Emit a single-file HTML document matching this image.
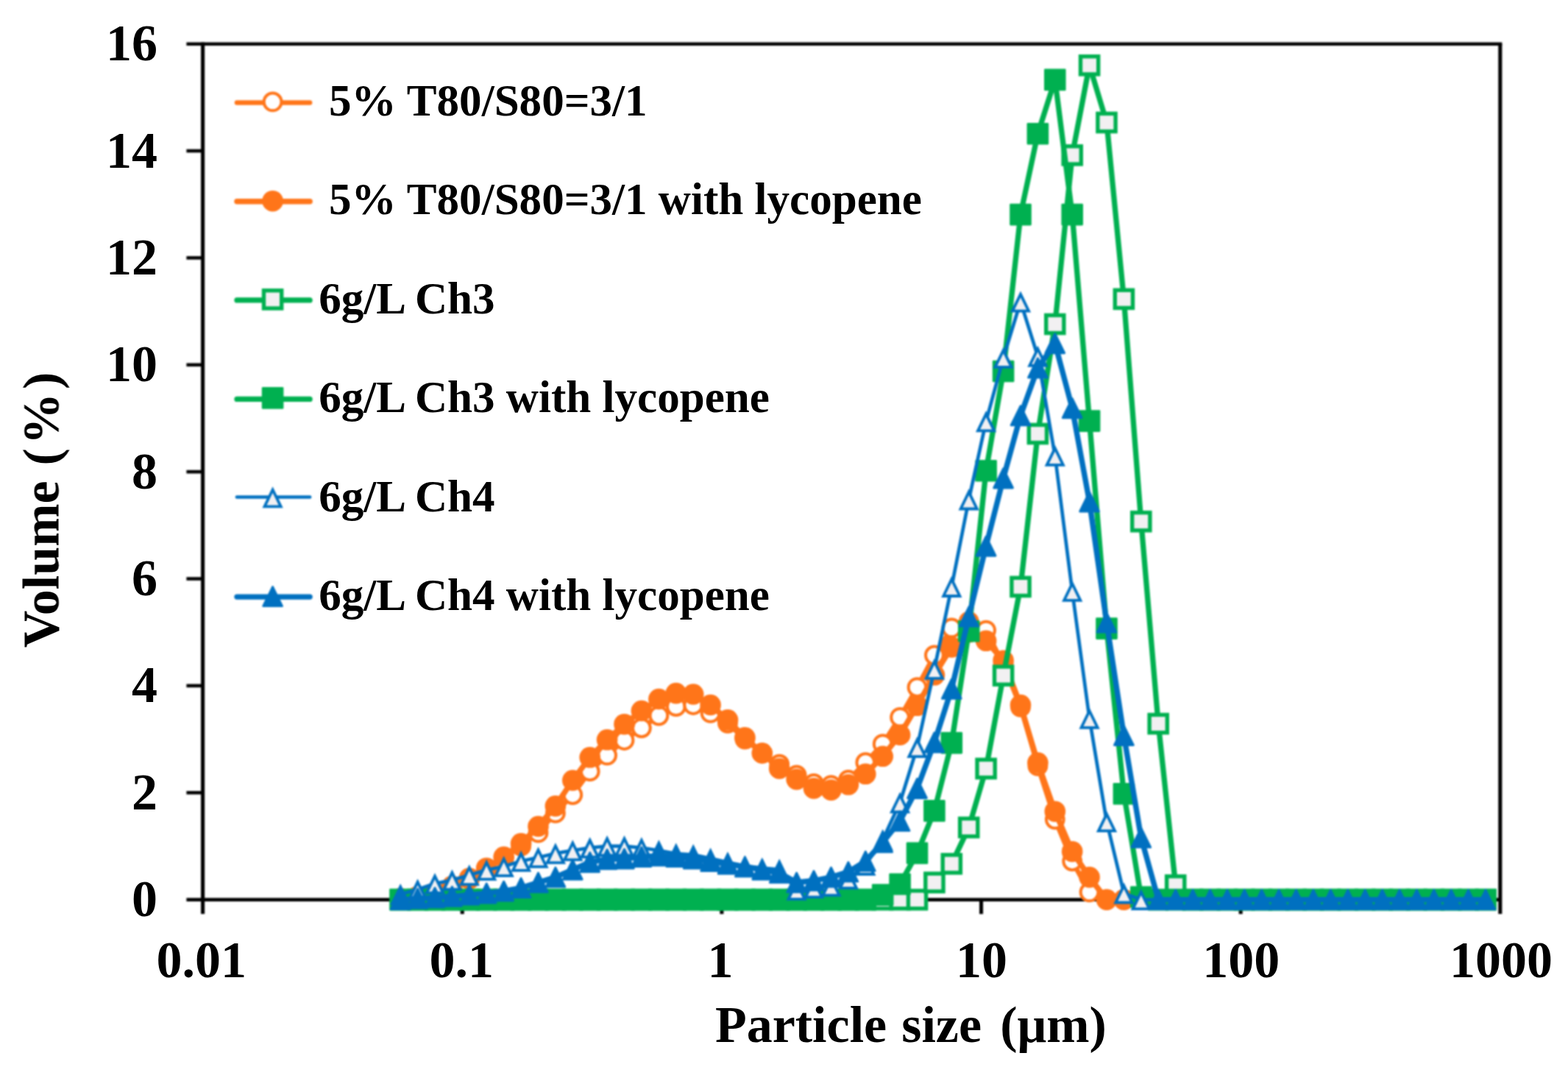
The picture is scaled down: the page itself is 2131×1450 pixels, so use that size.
<!DOCTYPE html>
<html lang="en"><head><meta charset="utf-8"><title>Particle size distribution</title>
<style>html,body{margin:0;padding:0;background:#fff;}body{width:2131px;height:1450px;}svg{display:block;}text{font-family:"Liberation Serif","DejaVu Serif",serif;font-weight:bold;fill:#000;}</style>
</head><body>
<svg width="2131" height="1450" viewBox="0 0 2131 1450">
<rect width="2131" height="1450" fill="#ffffff"/>
<defs>
<circle id="mo1" r="11.9" fill="#ffffff" stroke="#FF7519" stroke-width="4"/>
<circle id="mo2" r="14.3" fill="#FF7519"/>
<rect id="mg1" x="-12.1" y="-12.1" width="24.2" height="24.2" fill="#f2f0f2" stroke="#00B050" stroke-width="5.4" stroke-linejoin="miter"/>
<rect id="mg2" x="-13.5" y="-13.5" width="27" height="27" fill="#00B050" stroke="#00B050" stroke-width="2.6" stroke-linejoin="round"/>
<path id="mb1" d="M0 -10.2 L11.1 12.6 L-11.1 12.6 Z" fill="#f2f0f2" stroke="#0070C0" stroke-width="3.8" stroke-linejoin="miter"/>
<path id="mb2" d="M0 -13 L12.8 13 L-12.8 13 Z" fill="#0070C0" stroke="#0070C0" stroke-width="3" stroke-linejoin="round"/>
<filter id="soft" x="0" y="0" width="100%" height="100%" filterUnits="userSpaceOnUse" color-interpolation-filters="sRGB"><feGaussianBlur stdDeviation="1.0"/></filter>
<filter id="softt" x="0" y="0" width="100%" height="100%" filterUnits="userSpaceOnUse" color-interpolation-filters="sRGB"><feGaussianBlur stdDeviation="0.6"/></filter>
</defs>
<g filter="url(#soft)">
<g stroke="#000" fill="none" stroke-linecap="butt">
<path d="M253.40000000000003 59.7 H2041.35" stroke-width="4.6"/>
<path d="M2038.8 59.7 V1242.1" stroke-width="5.1"/>
<path d="M275.6 57.400000000000006 V1242.1" stroke-width="5.1"/>
<path d="M253.40000000000003 1222.6 H2038.8" stroke-width="4.6"/>
<path d="M253.40000000000003 1077.24 H275.6" stroke-width="4.6"/>
<path d="M253.40000000000003 931.88 H275.6" stroke-width="4.6"/>
<path d="M253.40000000000003 786.51 H275.6" stroke-width="4.6"/>
<path d="M253.40000000000003 641.15 H275.6" stroke-width="4.6"/>
<path d="M253.40000000000003 495.79 H275.6" stroke-width="4.6"/>
<path d="M253.40000000000003 350.42 H275.6" stroke-width="4.6"/>
<path d="M253.40000000000003 205.06 H275.6" stroke-width="4.6"/>
<path d="M628.24 1222.6 V1242.1" stroke-width="5.1"/>
<path d="M980.88 1222.6 V1242.1" stroke-width="5.1"/>
<path d="M1333.52 1222.6 V1242.1" stroke-width="5.1"/>
<path d="M1686.16 1222.6 V1242.1" stroke-width="5.1"/>
</g>
<g>
<polyline points="544.2,1221.1 567.6,1218.2 591.0,1213.2 614.4,1205.9 637.8,1195.0 661.2,1181.9 684.7,1165.9 708.1,1149.9 731.5,1131.7 754.9,1104.9 778.3,1080.1 801.7,1048.2 825.1,1026.4 848.5,1006.0 871.9,989.3 895.4,972.6 918.8,960.2 942.2,958.0 965.6,968.9 989.0,982.8 1012.4,1004.6 1035.8,1023.5 1059.2,1038.7 1082.6,1053.3 1106.0,1064.9 1129.5,1067.1 1152.9,1059.8 1176.3,1036.2 1199.7,1011.1 1223.1,974.8 1246.5,934.1 1269.9,890.4 1293.3,853.4 1316.7,844.7 1340.1,856.6 1363.6,902.8 1387.0,960.9 1410.4,1040.9 1433.8,1113.6 1457.2,1170.3 1480.6,1212.4 1504.0,1222.6 1527.4,1222.6 1550.8,1222.6 1574.2,1222.6 1597.7,1222.6 1621.1,1222.6 1644.5,1222.6 1667.9,1222.6 1691.3,1222.6 1714.7,1222.6 1738.1,1222.6 1761.5,1222.6 1784.9,1222.6 1808.3,1222.6 1831.8,1222.6 1855.2,1222.6 1878.6,1222.6 1902.0,1222.6 1925.4,1222.6 1948.8,1222.6 1972.2,1222.6 1995.6,1222.6 2019.0,1222.6" fill="none" stroke="#FF7519" stroke-width="6.5" stroke-linejoin="round" stroke-linecap="round"/>
<use href="#mo1" x="544.2" y="1221.1"/>
<use href="#mo1" x="567.6" y="1218.2"/>
<use href="#mo1" x="591.0" y="1213.2"/>
<use href="#mo1" x="614.4" y="1205.9"/>
<use href="#mo1" x="637.8" y="1195.0"/>
<use href="#mo1" x="661.2" y="1181.9"/>
<use href="#mo1" x="684.7" y="1165.9"/>
<use href="#mo1" x="708.1" y="1149.9"/>
<use href="#mo1" x="731.5" y="1131.7"/>
<use href="#mo1" x="754.9" y="1104.9"/>
<use href="#mo1" x="778.3" y="1080.1"/>
<use href="#mo1" x="801.7" y="1048.2"/>
<use href="#mo1" x="825.1" y="1026.4"/>
<use href="#mo1" x="848.5" y="1006.0"/>
<use href="#mo1" x="871.9" y="989.3"/>
<use href="#mo1" x="895.4" y="972.6"/>
<use href="#mo1" x="918.8" y="960.2"/>
<use href="#mo1" x="942.2" y="958.0"/>
<use href="#mo1" x="965.6" y="968.9"/>
<use href="#mo1" x="989.0" y="982.8"/>
<use href="#mo1" x="1012.4" y="1004.6"/>
<use href="#mo1" x="1035.8" y="1023.5"/>
<use href="#mo1" x="1059.2" y="1038.7"/>
<use href="#mo1" x="1082.6" y="1053.3"/>
<use href="#mo1" x="1106.0" y="1064.9"/>
<use href="#mo1" x="1129.5" y="1067.1"/>
<use href="#mo1" x="1152.9" y="1059.8"/>
<use href="#mo1" x="1176.3" y="1036.2"/>
<use href="#mo1" x="1199.7" y="1011.1"/>
<use href="#mo1" x="1223.1" y="974.8"/>
<use href="#mo1" x="1246.5" y="934.1"/>
<use href="#mo1" x="1269.9" y="890.4"/>
<use href="#mo1" x="1293.3" y="853.4"/>
<use href="#mo1" x="1316.7" y="844.7"/>
<use href="#mo1" x="1340.1" y="856.6"/>
<use href="#mo1" x="1363.6" y="902.8"/>
<use href="#mo1" x="1387.0" y="960.9"/>
<use href="#mo1" x="1410.4" y="1040.9"/>
<use href="#mo1" x="1433.8" y="1113.6"/>
<use href="#mo1" x="1457.2" y="1170.3"/>
<use href="#mo1" x="1480.6" y="1212.4"/>
<use href="#mo1" x="1504.0" y="1222.6"/>
<use href="#mo1" x="1527.4" y="1222.6"/>
<use href="#mo1" x="1550.8" y="1222.6"/>
<use href="#mo1" x="1574.2" y="1222.6"/>
<use href="#mo1" x="1597.7" y="1222.6"/>
<use href="#mo1" x="1621.1" y="1222.6"/>
<use href="#mo1" x="1644.5" y="1222.6"/>
<use href="#mo1" x="1667.9" y="1222.6"/>
<use href="#mo1" x="1691.3" y="1222.6"/>
<use href="#mo1" x="1714.7" y="1222.6"/>
<use href="#mo1" x="1738.1" y="1222.6"/>
<use href="#mo1" x="1761.5" y="1222.6"/>
<use href="#mo1" x="1784.9" y="1222.6"/>
<use href="#mo1" x="1808.3" y="1222.6"/>
<use href="#mo1" x="1831.8" y="1222.6"/>
<use href="#mo1" x="1855.2" y="1222.6"/>
<use href="#mo1" x="1878.6" y="1222.6"/>
<use href="#mo1" x="1902.0" y="1222.6"/>
<use href="#mo1" x="1925.4" y="1222.6"/>
<use href="#mo1" x="1948.8" y="1222.6"/>
<use href="#mo1" x="1972.2" y="1222.6"/>
<use href="#mo1" x="1995.6" y="1222.6"/>
<use href="#mo1" x="2019.0" y="1222.6"/>
</g>
<g>
<polyline points="544.2,1221.1 567.6,1218.2 591.0,1213.2 614.4,1204.4 637.8,1193.5 661.2,1179.7 684.7,1164.5 708.1,1146.3 731.5,1123.0 754.9,1095.4 778.3,1060.5 801.7,1029.3 825.1,1005.3 848.5,984.2 871.9,966.0 895.4,950.0 918.8,942.1 942.2,943.5 965.6,958.0 989.0,978.4 1012.4,1002.4 1035.8,1023.5 1059.2,1044.5 1082.6,1059.1 1106.0,1071.4 1129.5,1073.6 1152.9,1066.3 1176.3,1051.8 1199.7,1027.8 1223.1,998.7 1246.5,958.8 1269.9,917.3 1293.3,879.5 1316.7,859.2 1340.1,870.8 1363.6,897.7 1387.0,958.0 1410.4,1036.5 1433.8,1102.7 1457.2,1157.2 1480.6,1192.1 1504.0,1222.6 1527.4,1222.6 1550.8,1222.6 1574.2,1222.6 1597.7,1222.6 1621.1,1222.6 1644.5,1222.6 1667.9,1222.6 1691.3,1222.6 1714.7,1222.6 1738.1,1222.6 1761.5,1222.6 1784.9,1222.6 1808.3,1222.6 1831.8,1222.6 1855.2,1222.6 1878.6,1222.6 1902.0,1222.6 1925.4,1222.6 1948.8,1222.6 1972.2,1222.6 1995.6,1222.6 2019.0,1222.6" fill="none" stroke="#FF7519" stroke-width="7.5" stroke-linejoin="round" stroke-linecap="round"/>
<use href="#mo2" x="544.2" y="1221.1"/>
<use href="#mo2" x="567.6" y="1218.2"/>
<use href="#mo2" x="591.0" y="1213.2"/>
<use href="#mo2" x="614.4" y="1204.4"/>
<use href="#mo2" x="637.8" y="1193.5"/>
<use href="#mo2" x="661.2" y="1179.7"/>
<use href="#mo2" x="684.7" y="1164.5"/>
<use href="#mo2" x="708.1" y="1146.3"/>
<use href="#mo2" x="731.5" y="1123.0"/>
<use href="#mo2" x="754.9" y="1095.4"/>
<use href="#mo2" x="778.3" y="1060.5"/>
<use href="#mo2" x="801.7" y="1029.3"/>
<use href="#mo2" x="825.1" y="1005.3"/>
<use href="#mo2" x="848.5" y="984.2"/>
<use href="#mo2" x="871.9" y="966.0"/>
<use href="#mo2" x="895.4" y="950.0"/>
<use href="#mo2" x="918.8" y="942.1"/>
<use href="#mo2" x="942.2" y="943.5"/>
<use href="#mo2" x="965.6" y="958.0"/>
<use href="#mo2" x="989.0" y="978.4"/>
<use href="#mo2" x="1012.4" y="1002.4"/>
<use href="#mo2" x="1035.8" y="1023.5"/>
<use href="#mo2" x="1059.2" y="1044.5"/>
<use href="#mo2" x="1082.6" y="1059.1"/>
<use href="#mo2" x="1106.0" y="1071.4"/>
<use href="#mo2" x="1129.5" y="1073.6"/>
<use href="#mo2" x="1152.9" y="1066.3"/>
<use href="#mo2" x="1176.3" y="1051.8"/>
<use href="#mo2" x="1199.7" y="1027.8"/>
<use href="#mo2" x="1223.1" y="998.7"/>
<use href="#mo2" x="1246.5" y="958.8"/>
<use href="#mo2" x="1269.9" y="917.3"/>
<use href="#mo2" x="1293.3" y="879.5"/>
<use href="#mo2" x="1316.7" y="859.2"/>
<use href="#mo2" x="1340.1" y="870.8"/>
<use href="#mo2" x="1363.6" y="897.7"/>
<use href="#mo2" x="1387.0" y="958.0"/>
<use href="#mo2" x="1410.4" y="1036.5"/>
<use href="#mo2" x="1433.8" y="1102.7"/>
<use href="#mo2" x="1457.2" y="1157.2"/>
<use href="#mo2" x="1480.6" y="1192.1"/>
<use href="#mo2" x="1504.0" y="1222.6"/>
<use href="#mo2" x="1527.4" y="1222.6"/>
<use href="#mo2" x="1550.8" y="1222.6"/>
<use href="#mo2" x="1574.2" y="1222.6"/>
<use href="#mo2" x="1597.7" y="1222.6"/>
<use href="#mo2" x="1621.1" y="1222.6"/>
<use href="#mo2" x="1644.5" y="1222.6"/>
<use href="#mo2" x="1667.9" y="1222.6"/>
<use href="#mo2" x="1691.3" y="1222.6"/>
<use href="#mo2" x="1714.7" y="1222.6"/>
<use href="#mo2" x="1738.1" y="1222.6"/>
<use href="#mo2" x="1761.5" y="1222.6"/>
<use href="#mo2" x="1784.9" y="1222.6"/>
<use href="#mo2" x="1808.3" y="1222.6"/>
<use href="#mo2" x="1831.8" y="1222.6"/>
<use href="#mo2" x="1855.2" y="1222.6"/>
<use href="#mo2" x="1878.6" y="1222.6"/>
<use href="#mo2" x="1902.0" y="1222.6"/>
<use href="#mo2" x="1925.4" y="1222.6"/>
<use href="#mo2" x="1948.8" y="1222.6"/>
<use href="#mo2" x="1972.2" y="1222.6"/>
<use href="#mo2" x="1995.6" y="1222.6"/>
<use href="#mo2" x="2019.0" y="1222.6"/>
</g>
<g>
<polyline points="544.2,1222.6 567.6,1222.6 591.0,1222.6 614.4,1222.6 637.8,1222.6 661.2,1222.6 684.7,1222.6 708.1,1222.6 731.5,1222.6 754.9,1222.6 778.3,1222.6 801.7,1222.6 825.1,1222.6 848.5,1222.6 871.9,1222.6 895.4,1222.6 918.8,1222.6 942.2,1222.6 965.6,1222.6 989.0,1222.6 1012.4,1222.6 1035.8,1222.6 1059.2,1222.6 1082.6,1222.6 1106.0,1222.6 1129.5,1222.6 1152.9,1222.6 1176.3,1222.6 1199.7,1222.6 1223.1,1222.6 1246.5,1222.6 1269.9,1199.3 1293.3,1173.9 1316.7,1124.5 1340.1,1044.5 1363.6,918.1 1387.0,797.4 1410.4,589.5 1433.8,440.5 1457.2,210.9 1480.6,88.8 1504.0,166.5 1527.4,406.4 1550.8,708.7 1574.2,983.5 1597.7,1203.0 1621.1,1222.6 1644.5,1222.6 1667.9,1222.6 1691.3,1222.6 1714.7,1222.6 1738.1,1222.6 1761.5,1222.6 1784.9,1222.6 1808.3,1222.6 1831.8,1222.6 1855.2,1222.6 1878.6,1222.6 1902.0,1222.6 1925.4,1222.6 1948.8,1222.6 1972.2,1222.6 1995.6,1222.6 2019.0,1222.6" fill="none" stroke="#00B050" stroke-width="7.3" stroke-linejoin="round" stroke-linecap="round"/>
<use href="#mg1" x="544.2" y="1222.6"/>
<use href="#mg1" x="567.6" y="1222.6"/>
<use href="#mg1" x="591.0" y="1222.6"/>
<use href="#mg1" x="614.4" y="1222.6"/>
<use href="#mg1" x="637.8" y="1222.6"/>
<use href="#mg1" x="661.2" y="1222.6"/>
<use href="#mg1" x="684.7" y="1222.6"/>
<use href="#mg1" x="708.1" y="1222.6"/>
<use href="#mg1" x="731.5" y="1222.6"/>
<use href="#mg1" x="754.9" y="1222.6"/>
<use href="#mg1" x="778.3" y="1222.6"/>
<use href="#mg1" x="801.7" y="1222.6"/>
<use href="#mg1" x="825.1" y="1222.6"/>
<use href="#mg1" x="848.5" y="1222.6"/>
<use href="#mg1" x="871.9" y="1222.6"/>
<use href="#mg1" x="895.4" y="1222.6"/>
<use href="#mg1" x="918.8" y="1222.6"/>
<use href="#mg1" x="942.2" y="1222.6"/>
<use href="#mg1" x="965.6" y="1222.6"/>
<use href="#mg1" x="989.0" y="1222.6"/>
<use href="#mg1" x="1012.4" y="1222.6"/>
<use href="#mg1" x="1035.8" y="1222.6"/>
<use href="#mg1" x="1059.2" y="1222.6"/>
<use href="#mg1" x="1082.6" y="1222.6"/>
<use href="#mg1" x="1106.0" y="1222.6"/>
<use href="#mg1" x="1129.5" y="1222.6"/>
<use href="#mg1" x="1152.9" y="1222.6"/>
<use href="#mg1" x="1176.3" y="1222.6"/>
<use href="#mg1" x="1199.7" y="1222.6"/>
<use href="#mg1" x="1223.1" y="1222.6"/>
<use href="#mg1" x="1246.5" y="1222.6"/>
<use href="#mg1" x="1269.9" y="1199.3"/>
<use href="#mg1" x="1293.3" y="1173.9"/>
<use href="#mg1" x="1316.7" y="1124.5"/>
<use href="#mg1" x="1340.1" y="1044.5"/>
<use href="#mg1" x="1363.6" y="918.1"/>
<use href="#mg1" x="1387.0" y="797.4"/>
<use href="#mg1" x="1410.4" y="589.5"/>
<use href="#mg1" x="1433.8" y="440.5"/>
<use href="#mg1" x="1457.2" y="210.9"/>
<use href="#mg1" x="1480.6" y="88.8"/>
<use href="#mg1" x="1504.0" y="166.5"/>
<use href="#mg1" x="1527.4" y="406.4"/>
<use href="#mg1" x="1550.8" y="708.7"/>
<use href="#mg1" x="1574.2" y="983.5"/>
<use href="#mg1" x="1597.7" y="1203.0"/>
<use href="#mg1" x="1621.1" y="1222.6"/>
<use href="#mg1" x="1644.5" y="1222.6"/>
<use href="#mg1" x="1667.9" y="1222.6"/>
<use href="#mg1" x="1691.3" y="1222.6"/>
<use href="#mg1" x="1714.7" y="1222.6"/>
<use href="#mg1" x="1738.1" y="1222.6"/>
<use href="#mg1" x="1761.5" y="1222.6"/>
<use href="#mg1" x="1784.9" y="1222.6"/>
<use href="#mg1" x="1808.3" y="1222.6"/>
<use href="#mg1" x="1831.8" y="1222.6"/>
<use href="#mg1" x="1855.2" y="1222.6"/>
<use href="#mg1" x="1878.6" y="1222.6"/>
<use href="#mg1" x="1902.0" y="1222.6"/>
<use href="#mg1" x="1925.4" y="1222.6"/>
<use href="#mg1" x="1948.8" y="1222.6"/>
<use href="#mg1" x="1972.2" y="1222.6"/>
<use href="#mg1" x="1995.6" y="1222.6"/>
<use href="#mg1" x="2019.0" y="1222.6"/>
</g>
<g>
<polyline points="544.2,1222.6 567.6,1222.6 591.0,1222.6 614.4,1222.6 637.8,1222.6 661.2,1222.6 684.7,1222.6 708.1,1222.6 731.5,1222.6 754.9,1222.6 778.3,1222.6 801.7,1222.6 825.1,1222.6 848.5,1222.6 871.9,1222.6 895.4,1222.6 918.8,1222.6 942.2,1222.6 965.6,1222.6 989.0,1222.6 1012.4,1222.6 1035.8,1222.6 1059.2,1222.6 1082.6,1222.6 1106.0,1222.6 1129.5,1222.6 1152.9,1222.6 1176.3,1222.6 1199.7,1216.1 1223.1,1201.5 1246.5,1159.4 1269.9,1101.9 1293.3,1009.6 1316.7,857.7 1340.1,639.7 1363.6,504.5 1387.0,291.6 1410.4,181.8 1433.8,108.4 1457.2,291.6 1480.6,572.1 1504.0,854.1 1527.4,1078.7 1550.8,1219.0 1574.2,1222.6 1597.7,1222.6 1621.1,1222.6 1644.5,1222.6 1667.9,1222.6 1691.3,1222.6 1714.7,1222.6 1738.1,1222.6 1761.5,1222.6 1784.9,1222.6 1808.3,1222.6 1831.8,1222.6 1855.2,1222.6 1878.6,1222.6 1902.0,1222.6 1925.4,1222.6 1948.8,1222.6 1972.2,1222.6 1995.6,1222.6 2019.0,1222.6" fill="none" stroke="#00B050" stroke-width="7.3" stroke-linejoin="round" stroke-linecap="round"/>
<use href="#mg2" x="544.2" y="1222.6"/>
<use href="#mg2" x="567.6" y="1222.6"/>
<use href="#mg2" x="591.0" y="1222.6"/>
<use href="#mg2" x="614.4" y="1222.6"/>
<use href="#mg2" x="637.8" y="1222.6"/>
<use href="#mg2" x="661.2" y="1222.6"/>
<use href="#mg2" x="684.7" y="1222.6"/>
<use href="#mg2" x="708.1" y="1222.6"/>
<use href="#mg2" x="731.5" y="1222.6"/>
<use href="#mg2" x="754.9" y="1222.6"/>
<use href="#mg2" x="778.3" y="1222.6"/>
<use href="#mg2" x="801.7" y="1222.6"/>
<use href="#mg2" x="825.1" y="1222.6"/>
<use href="#mg2" x="848.5" y="1222.6"/>
<use href="#mg2" x="871.9" y="1222.6"/>
<use href="#mg2" x="895.4" y="1222.6"/>
<use href="#mg2" x="918.8" y="1222.6"/>
<use href="#mg2" x="942.2" y="1222.6"/>
<use href="#mg2" x="965.6" y="1222.6"/>
<use href="#mg2" x="989.0" y="1222.6"/>
<use href="#mg2" x="1012.4" y="1222.6"/>
<use href="#mg2" x="1035.8" y="1222.6"/>
<use href="#mg2" x="1059.2" y="1222.6"/>
<use href="#mg2" x="1082.6" y="1222.6"/>
<use href="#mg2" x="1106.0" y="1222.6"/>
<use href="#mg2" x="1129.5" y="1222.6"/>
<use href="#mg2" x="1152.9" y="1222.6"/>
<use href="#mg2" x="1176.3" y="1222.6"/>
<use href="#mg2" x="1199.7" y="1216.1"/>
<use href="#mg2" x="1223.1" y="1201.5"/>
<use href="#mg2" x="1246.5" y="1159.4"/>
<use href="#mg2" x="1269.9" y="1101.9"/>
<use href="#mg2" x="1293.3" y="1009.6"/>
<use href="#mg2" x="1316.7" y="857.7"/>
<use href="#mg2" x="1340.1" y="639.7"/>
<use href="#mg2" x="1363.6" y="504.5"/>
<use href="#mg2" x="1387.0" y="291.6"/>
<use href="#mg2" x="1410.4" y="181.8"/>
<use href="#mg2" x="1433.8" y="108.4"/>
<use href="#mg2" x="1457.2" y="291.6"/>
<use href="#mg2" x="1480.6" y="572.1"/>
<use href="#mg2" x="1504.0" y="854.1"/>
<use href="#mg2" x="1527.4" y="1078.7"/>
<use href="#mg2" x="1550.8" y="1219.0"/>
<use href="#mg2" x="1574.2" y="1222.6"/>
<use href="#mg2" x="1597.7" y="1222.6"/>
<use href="#mg2" x="1621.1" y="1222.6"/>
<use href="#mg2" x="1644.5" y="1222.6"/>
<use href="#mg2" x="1667.9" y="1222.6"/>
<use href="#mg2" x="1691.3" y="1222.6"/>
<use href="#mg2" x="1714.7" y="1222.6"/>
<use href="#mg2" x="1738.1" y="1222.6"/>
<use href="#mg2" x="1761.5" y="1222.6"/>
<use href="#mg2" x="1784.9" y="1222.6"/>
<use href="#mg2" x="1808.3" y="1222.6"/>
<use href="#mg2" x="1831.8" y="1222.6"/>
<use href="#mg2" x="1855.2" y="1222.6"/>
<use href="#mg2" x="1878.6" y="1222.6"/>
<use href="#mg2" x="1902.0" y="1222.6"/>
<use href="#mg2" x="1925.4" y="1222.6"/>
<use href="#mg2" x="1948.8" y="1222.6"/>
<use href="#mg2" x="1972.2" y="1222.6"/>
<use href="#mg2" x="1995.6" y="1222.6"/>
<use href="#mg2" x="2019.0" y="1222.6"/>
</g>
<g>
<polyline points="544.2,1215.3 567.6,1208.8 591.0,1200.8 614.4,1196.1 637.8,1189.2 661.2,1182.3 684.7,1177.5 708.1,1170.3 731.5,1165.2 754.9,1159.7 778.3,1155.7 801.7,1152.1 825.1,1149.9 848.5,1149.9 871.9,1152.1 895.4,1155.7 918.8,1160.1 942.2,1161.5 965.6,1166.6 989.0,1171.7 1012.4,1176.8 1035.8,1179.7 1059.2,1181.5 1082.6,1209.2 1106.0,1206.6 1129.5,1204.1 1152.9,1194.3 1176.3,1175.4 1199.7,1141.2 1223.1,1090.7 1246.5,1015.5 1269.9,909.3 1293.3,797.4 1316.7,678.9 1340.1,572.8 1363.6,486.3 1387.0,410.0 1410.4,484.2 1433.8,619.3 1457.2,803.2 1480.6,976.2 1504.0,1116.5 1527.4,1213.9 1550.8,1222.6 1574.2,1222.6 1597.7,1222.6 1621.1,1222.6 1644.5,1222.6 1667.9,1222.6 1691.3,1222.6 1714.7,1222.6 1738.1,1222.6 1761.5,1222.6 1784.9,1222.6 1808.3,1222.6 1831.8,1222.6 1855.2,1222.6 1878.6,1222.6 1902.0,1222.6 1925.4,1222.6 1948.8,1222.6 1972.2,1222.6 1995.6,1222.6 2019.0,1222.6" fill="none" stroke="#0070C0" stroke-width="4.7" stroke-linejoin="round" stroke-linecap="round"/>
<use href="#mb1" x="544.2" y="1215.3"/>
<use href="#mb1" x="567.6" y="1208.8"/>
<use href="#mb1" x="591.0" y="1200.8"/>
<use href="#mb1" x="614.4" y="1196.1"/>
<use href="#mb1" x="637.8" y="1189.2"/>
<use href="#mb1" x="661.2" y="1182.3"/>
<use href="#mb1" x="684.7" y="1177.5"/>
<use href="#mb1" x="708.1" y="1170.3"/>
<use href="#mb1" x="731.5" y="1165.2"/>
<use href="#mb1" x="754.9" y="1159.7"/>
<use href="#mb1" x="778.3" y="1155.7"/>
<use href="#mb1" x="801.7" y="1152.1"/>
<use href="#mb1" x="825.1" y="1149.9"/>
<use href="#mb1" x="848.5" y="1149.9"/>
<use href="#mb1" x="871.9" y="1152.1"/>
<use href="#mb1" x="895.4" y="1155.7"/>
<use href="#mb1" x="918.8" y="1160.1"/>
<use href="#mb1" x="942.2" y="1161.5"/>
<use href="#mb1" x="965.6" y="1166.6"/>
<use href="#mb1" x="989.0" y="1171.7"/>
<use href="#mb1" x="1012.4" y="1176.8"/>
<use href="#mb1" x="1035.8" y="1179.7"/>
<use href="#mb1" x="1059.2" y="1181.5"/>
<use href="#mb1" x="1082.6" y="1209.2"/>
<use href="#mb1" x="1106.0" y="1206.6"/>
<use href="#mb1" x="1129.5" y="1204.1"/>
<use href="#mb1" x="1152.9" y="1194.3"/>
<use href="#mb1" x="1176.3" y="1175.4"/>
<use href="#mb1" x="1199.7" y="1141.2"/>
<use href="#mb1" x="1223.1" y="1090.7"/>
<use href="#mb1" x="1246.5" y="1015.5"/>
<use href="#mb1" x="1269.9" y="909.3"/>
<use href="#mb1" x="1293.3" y="797.4"/>
<use href="#mb1" x="1316.7" y="678.9"/>
<use href="#mb1" x="1340.1" y="572.8"/>
<use href="#mb1" x="1363.6" y="486.3"/>
<use href="#mb1" x="1387.0" y="410.0"/>
<use href="#mb1" x="1410.4" y="484.2"/>
<use href="#mb1" x="1433.8" y="619.3"/>
<use href="#mb1" x="1457.2" y="803.2"/>
<use href="#mb1" x="1480.6" y="976.2"/>
<use href="#mb1" x="1504.0" y="1116.5"/>
<use href="#mb1" x="1527.4" y="1213.9"/>
<use href="#mb1" x="1550.8" y="1222.6"/>
<use href="#mb1" x="1574.2" y="1222.6"/>
<use href="#mb1" x="1597.7" y="1222.6"/>
<use href="#mb1" x="1621.1" y="1222.6"/>
<use href="#mb1" x="1644.5" y="1222.6"/>
<use href="#mb1" x="1667.9" y="1222.6"/>
<use href="#mb1" x="1691.3" y="1222.6"/>
<use href="#mb1" x="1714.7" y="1222.6"/>
<use href="#mb1" x="1738.1" y="1222.6"/>
<use href="#mb1" x="1761.5" y="1222.6"/>
<use href="#mb1" x="1784.9" y="1222.6"/>
<use href="#mb1" x="1808.3" y="1222.6"/>
<use href="#mb1" x="1831.8" y="1222.6"/>
<use href="#mb1" x="1855.2" y="1222.6"/>
<use href="#mb1" x="1878.6" y="1222.6"/>
<use href="#mb1" x="1902.0" y="1222.6"/>
<use href="#mb1" x="1925.4" y="1222.6"/>
<use href="#mb1" x="1948.8" y="1222.6"/>
<use href="#mb1" x="1972.2" y="1222.6"/>
<use href="#mb1" x="1995.6" y="1222.6"/>
<use href="#mb1" x="2019.0" y="1222.6"/>
</g>
<g>
<polyline points="544.2,1222.6 567.6,1221.1 591.0,1219.7 614.4,1218.2 637.8,1216.1 661.2,1213.9 684.7,1211.0 708.1,1206.6 731.5,1199.3 754.9,1192.1 778.3,1181.9 801.7,1171.7 825.1,1167.7 848.5,1167.0 871.9,1164.5 895.4,1163.0 918.8,1164.5 942.2,1167.0 965.6,1170.6 989.0,1174.3 1012.4,1177.9 1035.8,1181.9 1059.2,1186.3 1082.6,1199.3 1106.0,1196.8 1129.5,1192.1 1152.9,1184.8 1176.3,1170.3 1199.7,1144.8 1223.1,1115.8 1246.5,1071.4 1269.9,1008.9 1293.3,936.2 1316.7,838.1 1340.1,742.2 1363.6,649.9 1387.0,564.8 1410.4,500.1 1433.8,466.7 1457.2,554.7 1480.6,681.9 1504.0,846.1 1527.4,999.5 1550.8,1138.3 1574.2,1222.6 1597.7,1222.6 1621.1,1222.6 1644.5,1222.6 1667.9,1222.6 1691.3,1222.6 1714.7,1222.6 1738.1,1222.6 1761.5,1222.6 1784.9,1222.6 1808.3,1222.6 1831.8,1222.6 1855.2,1222.6 1878.6,1222.6 1902.0,1222.6 1925.4,1222.6 1948.8,1222.6 1972.2,1222.6 1995.6,1222.6 2019.0,1222.6" fill="none" stroke="#0070C0" stroke-width="7.4" stroke-linejoin="round" stroke-linecap="round"/>
<use href="#mb2" x="544.2" y="1222.6"/>
<use href="#mb2" x="567.6" y="1221.1"/>
<use href="#mb2" x="591.0" y="1219.7"/>
<use href="#mb2" x="614.4" y="1218.2"/>
<use href="#mb2" x="637.8" y="1216.1"/>
<use href="#mb2" x="661.2" y="1213.9"/>
<use href="#mb2" x="684.7" y="1211.0"/>
<use href="#mb2" x="708.1" y="1206.6"/>
<use href="#mb2" x="731.5" y="1199.3"/>
<use href="#mb2" x="754.9" y="1192.1"/>
<use href="#mb2" x="778.3" y="1181.9"/>
<use href="#mb2" x="801.7" y="1171.7"/>
<use href="#mb2" x="825.1" y="1167.7"/>
<use href="#mb2" x="848.5" y="1167.0"/>
<use href="#mb2" x="871.9" y="1164.5"/>
<use href="#mb2" x="895.4" y="1163.0"/>
<use href="#mb2" x="918.8" y="1164.5"/>
<use href="#mb2" x="942.2" y="1167.0"/>
<use href="#mb2" x="965.6" y="1170.6"/>
<use href="#mb2" x="989.0" y="1174.3"/>
<use href="#mb2" x="1012.4" y="1177.9"/>
<use href="#mb2" x="1035.8" y="1181.9"/>
<use href="#mb2" x="1059.2" y="1186.3"/>
<use href="#mb2" x="1082.6" y="1199.3"/>
<use href="#mb2" x="1106.0" y="1196.8"/>
<use href="#mb2" x="1129.5" y="1192.1"/>
<use href="#mb2" x="1152.9" y="1184.8"/>
<use href="#mb2" x="1176.3" y="1170.3"/>
<use href="#mb2" x="1199.7" y="1144.8"/>
<use href="#mb2" x="1223.1" y="1115.8"/>
<use href="#mb2" x="1246.5" y="1071.4"/>
<use href="#mb2" x="1269.9" y="1008.9"/>
<use href="#mb2" x="1293.3" y="936.2"/>
<use href="#mb2" x="1316.7" y="838.1"/>
<use href="#mb2" x="1340.1" y="742.2"/>
<use href="#mb2" x="1363.6" y="649.9"/>
<use href="#mb2" x="1387.0" y="564.8"/>
<use href="#mb2" x="1410.4" y="500.1"/>
<use href="#mb2" x="1433.8" y="466.7"/>
<use href="#mb2" x="1457.2" y="554.7"/>
<use href="#mb2" x="1480.6" y="681.9"/>
<use href="#mb2" x="1504.0" y="846.1"/>
<use href="#mb2" x="1527.4" y="999.5"/>
<use href="#mb2" x="1550.8" y="1138.3"/>
<use href="#mb2" x="1574.2" y="1222.6"/>
<use href="#mb2" x="1597.7" y="1222.6"/>
<use href="#mb2" x="1621.1" y="1222.6"/>
<use href="#mb2" x="1644.5" y="1222.6"/>
<use href="#mb2" x="1667.9" y="1222.6"/>
<use href="#mb2" x="1691.3" y="1222.6"/>
<use href="#mb2" x="1714.7" y="1222.6"/>
<use href="#mb2" x="1738.1" y="1222.6"/>
<use href="#mb2" x="1761.5" y="1222.6"/>
<use href="#mb2" x="1784.9" y="1222.6"/>
<use href="#mb2" x="1808.3" y="1222.6"/>
<use href="#mb2" x="1831.8" y="1222.6"/>
<use href="#mb2" x="1855.2" y="1222.6"/>
<use href="#mb2" x="1878.6" y="1222.6"/>
<use href="#mb2" x="1902.0" y="1222.6"/>
<use href="#mb2" x="1925.4" y="1222.6"/>
<use href="#mb2" x="1948.8" y="1222.6"/>
<use href="#mb2" x="1972.2" y="1222.6"/>
<use href="#mb2" x="1995.6" y="1222.6"/>
<use href="#mb2" x="2019.0" y="1222.6"/>
</g>
<line x1="322" y1="139.4" x2="421.1" y2="139.4" stroke="#FF7519" stroke-width="6.5" stroke-linecap="round"/>
<use href="#mo1" x="370.6" y="138.4"/>
<line x1="322" y1="273.7" x2="421.1" y2="273.7" stroke="#FF7519" stroke-width="7.5" stroke-linecap="round"/>
<use href="#mo2" x="370.6" y="273.2"/>
<line x1="322" y1="407.9" x2="421.1" y2="407.9" stroke="#00B050" stroke-width="7.3" stroke-linecap="round"/>
<use href="#mg1" x="370.6" y="406.9"/>
<line x1="322" y1="542.4" x2="421.1" y2="542.4" stroke="#00B050" stroke-width="7.3" stroke-linecap="round"/>
<use href="#mg2" x="370.6" y="540.9"/>
<line x1="322" y1="675.5" x2="421.1" y2="675.5" stroke="#0070C0" stroke-width="4.7" stroke-linecap="round"/>
<use href="#mb1" x="370.6" y="675.7"/>
<line x1="322" y1="811.1" x2="421.1" y2="811.1" stroke="#0070C0" stroke-width="7.4" stroke-linecap="round"/>
<use href="#mb2" x="370.6" y="810.6"/>
</g>
<g filter="url(#softt)">
<g font-size="70" text-anchor="end">
<text x="214" y="1245.1">0</text>
<text x="214" y="1099.7">2</text>
<text x="214" y="954.4">4</text>
<text x="214" y="809.0">6</text>
<text x="214" y="663.6">8</text>
<text x="214" y="518.3">10</text>
<text x="214" y="372.9">12</text>
<text x="214" y="227.6">14</text>
<text x="214" y="82.2">16</text>
</g>
<g font-size="70" text-anchor="middle">
<text x="273.7" y="1328.3">0.01</text>
<text x="627.3" y="1328.3">0.1</text>
<text x="978.9" y="1328.3">1</text>
<text x="1334.1" y="1328.3">10</text>
<text x="1686.8" y="1328.3">100</text>
<text x="2040.0" y="1328.3">1000</text>
</g>
<text x="1237.9" y="1415.5" font-size="70" text-anchor="middle">Particle<tspan dx="2.5"> size</tspan><tspan dx="7.7"> (μm)</tspan></text>
<text transform="translate(79.5 693) rotate(-90)" font-size="70" text-anchor="middle">Volume<tspan dx="3.4"> (</tspan><tspan dx="5.1">%</tspan><tspan dx="5.1">)</tspan></text>
<text x="447.0" y="156.6" font-size="61.1">5% T80/S80=3/1</text>
<text x="447.0" y="291.1" font-size="61.1">5% T80/S80=3/1 with lycopene</text>
<text x="433.2" y="425.8" font-size="61.1">6g/L Ch3</text>
<text x="433.2" y="560.2" font-size="61.1">6g/L Ch3 with lycopene</text>
<text x="433.2" y="694.6" font-size="61.1">6g/L Ch4</text>
<text x="433.2" y="829.1" font-size="61.1">6g/L Ch4 with lycopene</text>
</g>
</svg></body></html>
